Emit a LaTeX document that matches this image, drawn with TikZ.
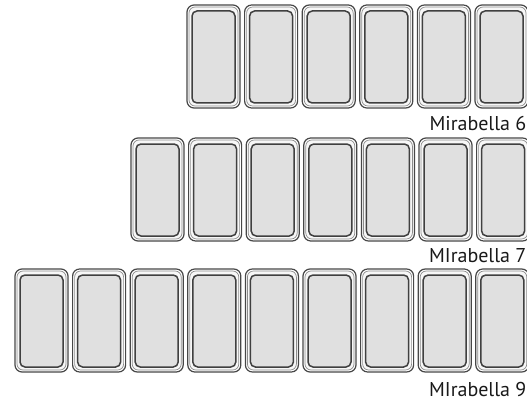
\documentclass[tikz,border=0pt]{standalone}
\usepackage{fontspec}
\setmainfont{PT Sans}
\begin{document}
\begin{tikzpicture}[x=1pt,y=-1pt,
  outerline/.style={draw=black!72,line width=1.2pt,fill=white},
  midline/.style={draw=black!45,line width=0.7pt,fill=black!3},
  innerline/.style={draw=black!75,line width=1.5pt,fill=black!12},
  lbl/.style={anchor=base east,inner sep=0pt,font=\fontsize{20}{24}\selectfont,text=black!90},
  tray/.pic={
    \path[outerline,rounded corners=7pt] (0,0) rectangle (53,103);
    \path[midline,rounded corners=6pt] (2,2) rectangle (51,101);
    \path[innerline,rounded corners=5pt] (5,6) rectangle (48,98);
  }]
\useasboundingbox (0,0) rectangle (527,401);
\foreach \i in {0,...,5} \pic at ({187+57.6*\i},5) {tray};
\foreach \i in {0,...,6} \pic at ({131+57.6*\i},138) {tray};
\foreach \i in {0,...,8} \pic at ({15+57.6*\i},269) {tray};
\node[lbl] (l6) at (526.5,131) {Mirabella 6};
\node[lbl] (l7) at (526.5,262) {MIrabella 7};
\node[lbl] (l9) at (526.5,396) {MIrabella 9};
\end{tikzpicture}
\end{document}
